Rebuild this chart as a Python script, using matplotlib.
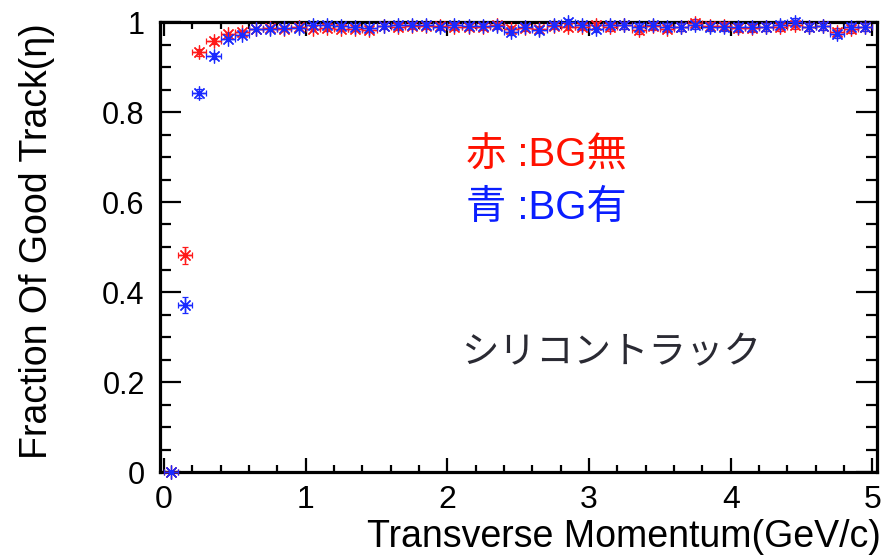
import matplotlib
matplotlib.use("Agg")
import matplotlib.pyplot as plt
from matplotlib.ticker import MultipleLocator, FixedLocator, FixedFormatter

# ---- data ----
pt = [0.05, 0.15, 0.25, 0.35, 0.45, 0.55, 0.65, 0.75, 0.85, 0.95,
      1.05, 1.15, 1.25, 1.35, 1.45, 1.55, 1.65, 1.75, 1.85, 1.95,
      2.05, 2.15, 2.25, 2.35, 2.45, 2.55, 2.65, 2.75, 2.85, 2.95,
      3.05, 3.15, 3.25, 3.35, 3.45, 3.55, 3.65, 3.75, 3.85, 3.95,
      4.05, 4.15, 4.25, 4.35, 4.45, 4.55, 4.65, 4.75, 4.85, 4.95]
pt_err = 0.05

red_noBG = [0.0, 0.482, 0.933, 0.958, 0.973, 0.978, 0.985, 0.986, 0.985, 0.988,
            0.985, 0.986, 0.985, 0.985, 0.982, 0.992, 0.989, 0.991, 0.991, 0.991,
            0.989, 0.989, 0.989, 0.993, 0.985, 0.987, 0.984, 0.992, 0.989, 0.989,
            0.993, 0.989, 0.993, 0.982, 0.991, 0.985, 0.989, 0.998, 0.991, 0.991,
            0.987, 0.987, 0.989, 0.989, 0.993, 0.989, 0.991, 0.978, 0.985, 0.989]
red_err = [0.0, 0.019, 0.008, 0.006, 0.005, 0.004, 0.004, 0.004, 0.004, 0.004,
           0.005, 0.005, 0.005, 0.005, 0.005, 0.006, 0.006, 0.006, 0.006, 0.006,
           0.006, 0.006, 0.006, 0.007, 0.007, 0.007, 0.007, 0.007, 0.007, 0.007,
           0.008, 0.008, 0.008, 0.008, 0.008, 0.008, 0.008, 0.008, 0.008, 0.008,
           0.009, 0.009, 0.009, 0.009, 0.009, 0.009, 0.009, 0.009, 0.009, 0.009]

blue_BG = [0.0, 0.371, 0.842, 0.925, 0.962, 0.972, 0.985, 0.985, 0.987, 0.987,
           0.993, 0.993, 0.991, 0.989, 0.987, 0.991, 0.993, 0.993, 0.993, 0.989,
           0.993, 0.991, 0.991, 0.991, 0.978, 0.989, 0.982, 0.993, 1.000, 0.993,
           0.985, 0.993, 0.993, 0.989, 0.993, 0.989, 0.989, 0.993, 0.989, 0.989,
           0.989, 0.989, 0.989, 0.993, 1.000, 0.989, 0.991, 0.974, 0.989, 0.989]
blue_err = [0.0, 0.018, 0.010, 0.007, 0.005, 0.005, 0.004, 0.004, 0.004, 0.004,
            0.005, 0.005, 0.005, 0.005, 0.005, 0.006, 0.006, 0.006, 0.006, 0.006,
            0.006, 0.006, 0.006, 0.007, 0.007, 0.007, 0.007, 0.007, 0.007, 0.007,
            0.008, 0.008, 0.008, 0.008, 0.008, 0.008, 0.008, 0.008, 0.008, 0.008,
            0.009, 0.009, 0.009, 0.009, 0.009, 0.009, 0.009, 0.009, 0.009, 0.009]

x_ticks = [0, 1, 2, 3, 4, 5]
x_ticklabels = ["0", "1", "2", "3", "4", "5"]
y_ticks = [0, 0.2, 0.4, 0.6, 0.8, 1.0]
y_ticklabels = ["0", "0.2", "0.4", "0.6", "0.8", "1"]

x_title = "Transverse Momentum(GeV/c)"
y_title = "Fraction Of Good Track(\u03b7)"
note_red = "赤 :BG無"
note_blue = "青 :BG有"
note_si = "シリコントラック"

# ---- figure ----
W, H = 883, 555
fig = plt.figure(figsize=(W / 100, H / 100), dpi=100)
ax = fig.add_axes([160 / W, 83 / H, 717 / W, 450 / H])
ax.set_xlim(-0.028, 5.032)
ax.set_ylim(0, 1)

latin = ["Liberation Sans", "DejaVu Sans"]
mixed = ["Liberation Sans", "Noto Sans CJK JP", "DejaVu Sans"]
cjk = ["Noto Sans CJK JP", "DejaVu Sans"]

for spine in ax.spines.values():
    spine.set_linewidth(2.3)
    spine.set_zorder(2)

ax.xaxis.set_major_locator(FixedLocator(x_ticks))
ax.xaxis.set_major_formatter(FixedFormatter(x_ticklabels))
ax.xaxis.set_minor_locator(MultipleLocator(0.2))
ax.yaxis.set_major_locator(FixedLocator(y_ticks))
ax.yaxis.set_major_formatter(FixedFormatter(y_ticklabels))
ax.yaxis.set_minor_locator(MultipleLocator(0.05))

ax.tick_params(axis="both", which="both", direction="in", top=True, right=True,
               width=1.6, color="black")
ax.tick_params(axis="x", which="major", length=10, pad=9, labelsize=23)
ax.tick_params(axis="x", which="minor", length=5)
ax.tick_params(axis="y", which="major", length=15, pad=11, labelsize=22)
ax.tick_params(axis="y", which="minor", length=8)
for lab in ax.get_xticklabels() + ax.get_yticklabels():
    lab.set_family(latin)

common = dict(linestyle="none", marker=(8, 2, 0), markersize=10,
              markeredgewidth=0.9, elinewidth=1.0, capsize=2.5, capthick=1.0,
              clip_on=False, zorder=4)
r = ax.errorbar(pt, red_noBG, xerr=pt_err, yerr=red_err, color="#ff1a1a", **common)
b = ax.errorbar(pt, blue_BG, xerr=pt_err, yerr=blue_err, color="#1a2aff", **common)
for cont in (r, b):
    for art in list(cont.lines[1]) + list(cont.lines[2]):
        art.set_clip_on(False)

fig.text(37 / W, 1 - 241 / H, y_title, rotation=90, ha="center", va="center",
         fontsize=27, family=latin, color="black")
fig.text(881 / W, 1 - 547 / H, x_title, ha="right", va="baseline",
         fontsize=27, family=latin, color="black")

fig.text(466 / W, 1 - 156 / H, note_red, ha="left", va="center",
         fontsize=29, family=mixed, color="#ff1100")
fig.text(466 / W, 1 - 208 / H, note_blue, ha="left", va="center",
         fontsize=29, family=mixed, color="#0a1eff")
fig.text(461 / W, 1 - 353 / H, note_si, ha="left", va="center",
         fontsize=27, family=cjk, color="#2a2a33")

fig.savefig("out.png", dpi=100)
